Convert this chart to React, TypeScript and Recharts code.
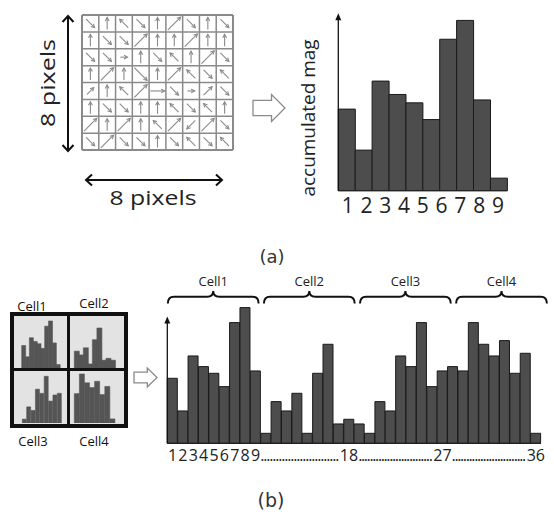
import { BarChart, Bar, XAxis, YAxis, ReferenceLine, ReferenceArea, ScatterChart, Scatter } from 'recharts';

// 36 orientation bins (4 cells x 9 bins)
const cellHist = [
  19.5, 9.7, 26.2, 23, 21, 17, 36.2, 40.7, 21.7,
  3, 12.5, 9.7, 15, 3, 21, 29.7, 5.8, 7.2,
  5.8, 3, 12.5, 9.7, 26.2, 23, 36.2, 17, 21.7,
  23, 21.7, 36.2, 29.7, 26.2, 30.8, 21, 27, 3,
];
const cellNames = ['Cell1', 'Cell2', 'Cell3', 'Cell4'];
const binLabels = ['1', '2', '3', '4', '5', '6', '7', '8', '9'];
const shownBins = ['1', '2', '3', '4', '5', '6', '7', '8', '9', '18', '27', '36'];
const dottedBins = ['9', '18', '27'];
// which bins each little cell picture shows
const miniRanges = [[0, 10], [10, 19], [19, 28], [28, 36]];

// gradient directions in the 8-pixel patch, row by row
const gridDirs = [
  ['se', 'n', 'nw', 'se', 'n', 'ne', 'se', 'n', 'se'],
  ['n', 'se', 'se', 'ne', 'n', 'n', 'ne', 'n', 'n'],
  ['se', 'se', 'e', 'n', 'se', 'nw', 'n', 'ne', 'se'],
  ['n', 'ne', 'n', 'se', 'n', 'ne', 'nw', 'se', 'nw'],
  ['ne', 'n', 'nw', 'ne', 'e', 'se', 'e', 'ne', 'se'],
  ['n', 'se', 'se', 'n', 'n', 'nw', 'se', 'nw', 'n'],
  ['ne', 'n', 'ne', 'n', 'nw', 'ne', 'sw', 'ne', 'se'],
  ['se', 'ne', 'se', 'se', 'n', 'se', 'nw', 'se', 'nw'],
];
const gridMags = [
  [1, 1, 1, 1, 1, 1.5, 1, 1, 1],
  [1, 1, 1, 1.5, 1, 1, 1.5, 1, 1],
  [1, 1, 0.6, 1, 1, 1, 1, 1.5, 1],
  [1, 1.5, 1, 1.5, 1, 1.5, 1, 1, 1],
  [0.8, 1, 1, 1.5, 1.2, 1, 0.6, 1, 1],
  [1, 1, 1, 1, 1, 1, 1, 1, 1],
  [1.5, 1, 1.5, 1, 1, 1.5, 1, 1.5, 1],
  [1, 1.5, 1, 1, 1, 1, 1, 1, 1],
];

const binRows = cellHist.map((v, i) => ({ bin: String(i + 1), v }));
const gridPoints = gridDirs.flatMap((row, r) =>
  row.map((dir, c) => ({ x: c + 0.5, y: r + 0.5, dir, mag: gridMags[r][c] }))
);

const dirVec: Record<string, [number, number]> = {
  n: [0, -1], ne: [0.707, -0.707], e: [1, 0], se: [0.707, 0.707],
  s: [0, 1], sw: [-0.707, 0.707], w: [-1, 0], nw: [-0.707, -0.707],
};

const FONT = '"Open Sans", "DejaVu Sans", sans-serif';
const BAR_FILL = '#4d4d4d';

function GradArrow(props: any) {
  const { cx, cy, payload } = props;
  const [ux, uy] = dirVec[payload.dir];
  const len = payload.mag * 12;
  const x1 = cx - (ux * len) / 2;
  const y1 = cy - (uy * len) / 2;
  const x2 = cx + (ux * len) / 2;
  const y2 = cy + (uy * len) / 2;
  const a = Math.atan2(uy, ux);
  const h = 4;
  const p1 = `${x2 - h * Math.cos(a - 0.5)},${y2 - h * Math.sin(a - 0.5)}`;
  const p2 = `${x2 - h * Math.cos(a + 0.5)},${y2 - h * Math.sin(a + 0.5)}`;
  return (
    <g stroke="#8a8a8a" strokeWidth={1.1} fill="none">
      <line x1={x1} y1={y1} x2={x2} y2={y2} />
      <polyline points={`${p1} ${x2},${y2} ${p2}`} />
    </g>
  );
}

function AxisArrow(props: any) {
  const { x1, y1, x2, y2 } = props;
  return (
    <g>
      <line x1={x1} y1={y1} x2={x2} y2={y2 + 5} stroke="#111" strokeWidth={1.3} />
      <polygon points={`${x2 - 3},${y2 + 7} ${x2},${y2} ${x2 + 3},${y2 + 7}`} fill="#111" />
    </g>
  );
}

function Brace(props: any) {
  const { x, y, width, height, name } = props;
  const r = 6;
  const mid = x + width / 2;
  const yf = y + height * 0.45;
  const d = `M${x},${y + height} Q${x},${yf} ${x + r},${yf} L${mid - r},${yf} Q${mid},${yf} ${mid},${y} ` +
    `Q${mid},${yf} ${mid + r},${yf} L${x + width - r},${yf} Q${x + width},${yf} ${x + width},${y + height}`;
  return (
    <g>
      <path d={d} fill="none" stroke="#111" strokeWidth={2} />
      <text x={mid} y={y - 5} textAnchor="middle" fontSize={13} fill="#222" fontFamily={FONT}>{name}</text>
    </g>
  );
}

function BinTick(props: any) {
  const { x, y, payload } = props;
  const label = String(payload.value);
  if (!shownBins.includes(label)) return null;
  const w = typeof props.width === 'number' && props.width > 0 ? props.width : 374;
  const step = w / cellHist.length;
  const half = label.length * 4.6;
  return (
    <g>
      <text x={x} y={y} dy="0.71em" textAnchor="middle" fontSize={16} fill="#222" fontFamily={FONT}>{label}</text>
      {dottedBins.includes(label) && (
        <text x={x + half} y={y} dy="0.71em" fontSize={16} fill="#222" fontFamily={FONT}
          textLength={9 * step - half - 9.5} lengthAdjust="spacing">{'.'.repeat(26)}</text>
      )}
    </g>
  );
}

function HollowArrow({ x, y, w, h }: { x: number; y: number; w: number; h: number }) {
  const bx = x + w * 0.58;
  const t = h * 0.28;
  const pts = [[x, y - t], [bx, y - t], [bx, y - h / 2], [x + w, y], [bx, y + h / 2], [bx, y + t], [x, y + t]];
  return <polygon points={pts.map((p) => p.join(',')).join(' ')} fill="#fff" stroke="#8a8a8a" strokeWidth={1.3} />;
}

function MiniHist({ range, box }: { range: number[]; box: { left: number; top: number; w: number; h: number; m: any } }) {
  const rows = binRows.slice(range[0], range[1]);
  return (
    <div style={{ position: 'absolute', left: box.left, top: box.top }}>
      <BarChart width={box.w} height={box.h} data={rows} margin={box.m} barCategoryGap={0}>
        <XAxis dataKey="bin" hide />
        <YAxis domain={[0, 'dataMax']} hide />
        <Bar dataKey="v" fill="#555" stroke="#555" strokeWidth={0.6} isAnimationActive={false} />
      </BarChart>
    </div>
  );
}

const miniBoxes = [
  { left: 14, top: 316, w: 53, h: 52, m: { top: 5, right: 7, bottom: 0, left: 7.7 } },
  { left: 70, top: 316, w: 54, h: 52, m: { top: 12, right: 9, bottom: 0, left: 4.3 } },
  { left: 14, top: 371, w: 53, h: 52, m: { top: 5.3, right: 5.3, bottom: 0, left: 8.3 } },
  { left: 70, top: 371, w: 54, h: 52, m: { top: 3, right: 9, bottom: 0, left: 4.3 } },
];

export default function App() {
  return (
    <div style={{ position: 'absolute', left: 0, top: 0, width: 554, height: 522, background: '#fff', overflow: 'hidden' }}>
      {/* 8x8 gradient patch */}
      <div style={{ position: 'absolute', left: 75, top: 8 }}>
        <ScatterChart width={165} height={150} margin={{ top: 7, right: 7, bottom: 8, left: 7 }}>
          <XAxis type="number" dataKey="x" domain={[0, 9]} hide />
          <YAxis type="number" dataKey="y" domain={[0, 8]} reversed hide />
          {Array.from({ length: 10 }, (_, i) => (
            <ReferenceLine key={`v${i}`} x={i} stroke="#8a8a8a" strokeWidth={i === 0 || i === 9 ? 2 : 1.5} />
          ))}
          {Array.from({ length: 9 }, (_, j) => (
            <ReferenceLine key={`h${j}`} y={j} stroke="#8a8a8a" strokeWidth={j === 0 || j === 8 ? 2 : 1.5} />
          ))}
          <Scatter data={gridPoints} shape={GradArrow} isAnimationActive={false} />
        </ScatterChart>
      </div>

      {/* single-cell histogram */}
      <div style={{ position: 'absolute', left: 280, top: 0 }}>
        <BarChart width={260} height={228} data={binRows.slice(0, 10)} barCategoryGap={0}
          margin={{ top: 13.3, right: 32.7, bottom: 4.3, left: 58.3 }}>
          <XAxis xAxisId="a_bounds" type="number" domain={[0, 10]} ticks={[1, 2, 3, 4, 5, 6, 7, 8, 9]} tick={false}
            tickSize={5} height={1} axisLine={{ stroke: '#222', strokeWidth: 1.3 }} tickLine={{ stroke: '#222' }} />
          <XAxis xAxisId="b_labels" type="number" domain={[0, 9]} ticks={[0.5, 1.5, 2.5, 3.5, 4.5, 5.5, 6.5, 7.5, 8.5]}
            tickFormatter={(v: number) => binLabels[Math.floor(v)]} axisLine={false} tickLine={false}
            tickSize={0} tickMargin={6} height={32} tick={{ fontSize: 21, fill: '#222', fontFamily: FONT }} />
          <XAxis xAxisId="c_bins" dataKey="bin" orientation="top" hide />
          <YAxis domain={[0, 42.4]} hide />
          <Bar xAxisId="c_bins" dataKey="v" fill={BAR_FILL} stroke="#1a1a1a" strokeWidth={1} isAnimationActive={false} />
          <ReferenceLine xAxisId="a_bounds" segment={[{ x: 0, y: 0 }, { x: 0, y: 42.4 }]} shape={AxisArrow} />
        </BarChart>
      </div>

      {/* concatenated histogram */}
      <div style={{ position: 'absolute', left: 150, top: 262 }}>
        <BarChart width={400} height={205} data={binRows} barCategoryGap={0}
          margin={{ top: 44.6, right: 9, bottom: 2.7, left: 17.3 }}>
          <XAxis xAxisId="a_bounds" type="number" domain={[0, 36]} ticks={[1, 2, 3, 4, 5, 6, 7, 8]} tick={false}
            tickSize={5} height={1} axisLine={{ stroke: '#222', strokeWidth: 1.3 }} tickLine={{ stroke: '#222' }} />
          <XAxis xAxisId="b_bins" dataKey="bin" interval={0} tick={<BinTick />} axisLine={false} tickLine={false}
            tickSize={0} tickMargin={5.5} height={20} />
          <YAxis domain={[0, 41]} hide />
          <Bar xAxisId="b_bins" dataKey="v" fill={BAR_FILL} stroke="#1a1a1a" strokeWidth={1} isAnimationActive={false} />
          <ReferenceLine xAxisId="a_bounds" segment={[{ x: 0, y: 0 }, { x: 0, y: 38 }]} shape={AxisArrow} />
          {cellNames.map((name, k) => (
            <ReferenceArea key={name} xAxisId="a_bounds" x1={k * 9 + 0.05} x2={k * 9 + 8.55} y1={41.9} y2={45.7}
              ifOverflow="visible" shape={(p: any) => <Brace {...p} name={name} />} />
          ))}
        </BarChart>
      </div>

      {/* 2x2 cell panel */}
      <div style={{ position: 'absolute', left: 10, top: 312, width: 118, height: 116, boxSizing: 'border-box', border: '4px solid #111', background: '#e3e3e3' }} />
      {miniRanges.map((r, i) => (
        <MiniHist key={i} range={r} box={miniBoxes[i]} />
      ))}
      <div style={{ position: 'absolute', left: 67, top: 312, width: 3, height: 116, background: '#111' }} />
      <div style={{ position: 'absolute', left: 10, top: 368, width: 118, height: 3, background: '#111' }} />

      {/* annotations */}
      <svg width={554} height={522} style={{ position: 'absolute', left: 0, top: 0, pointerEvents: 'none' }}>
        <g stroke="#111" strokeWidth={2} fill="none">
          <line x1={68} y1={16} x2={68} y2={151} />
          <polyline points="62.5,22 68,16 73.5,22" />
          <polyline points="62.5,145 68,151 73.5,145" />
          <line x1={86} y1={180} x2={222} y2={180} />
          <polyline points="92,174.5 86,180 92,185.5" />
          <polyline points="216,174.5 222,180 216,185.5" />
        </g>
        <text x={47} y={83} transform="rotate(-90 47 83)" textAnchor="middle" dominantBaseline="central"
          fontSize={20} fill="#222" fontFamily={FONT} textLength={88} lengthAdjust="spacingAndGlyphs">8 pixels</text>
        <text x={153} y={205} textAnchor="middle" fontSize={20} fill="#222" fontFamily={FONT}
          textLength={87} lengthAdjust="spacingAndGlyphs">8 pixels</text>
        <text x={308} y={118} transform="rotate(-90 308 118)" textAnchor="middle" dominantBaseline="central"
          fontSize={18} fill="#222" fontFamily={FONT} textLength={157} lengthAdjust="spacingAndGlyphs">accumulated mag</text>
        <HollowArrow x={253} y={108} w={32} h={27} />
        <HollowArrow x={134} y={377.5} w={23} h={19} />
        <text x={272} y={263} textAnchor="middle" fontSize={18} fill="#333" fontFamily="DejaVu Sans">(a)</text>
        <text x={271} y={507} textAnchor="middle" fontSize={19} fill="#333" fontFamily="DejaVu Sans">(b)</text>
        <g fontSize={13} fill="#111" fontFamily={FONT} textAnchor="middle">
          <text x={32} y={311}>{cellNames[0]}</text>
          <text x={94} y={308}>{cellNames[1]}</text>
          <text x={33} y={446}>{cellNames[2]}</text>
          <text x={94} y={446}>{cellNames[3]}</text>
        </g>
      </svg>
    </div>
  );
}
